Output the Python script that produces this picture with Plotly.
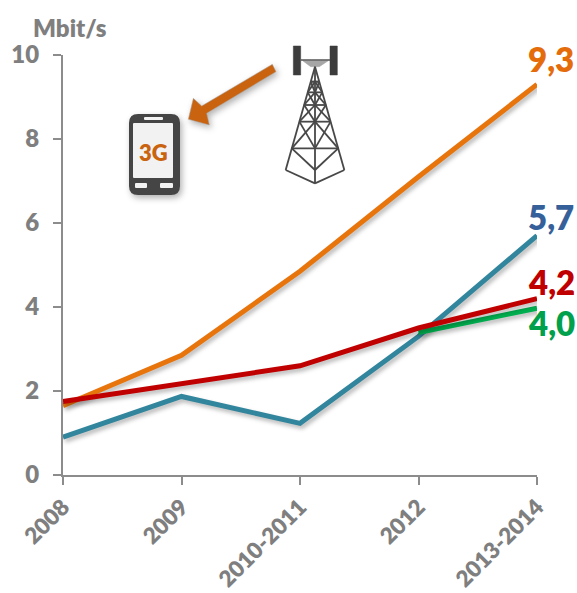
import plotly.graph_objects as go

categories = ["2008", "2009", "2010-2011", "2012", "2013-2014"]
series_blue = [0.9, 1.87, 1.23, 3.3, 5.7]
series_orange = [1.65, 2.85, 4.85, 7.1, 9.3]
series_green = [None, None, None, 3.39, 3.97]
series_red = [1.75, 2.17, 2.6, 3.5, 4.2]
end_labels = ["5,7", "9,3", "4,0", "4,2"]
y_ticks = [0, 2, 4, 6, 8, 10]

W, H = 577, 593
ML, MR, MT, MB = 63, 40, 55, 118
GRAY = "#7f7f7f"
FONT = "Lato"

def px(x): return (x - ML) / (W - ML - MR)
def py(y): return 1 - (y - MT) / (H - MT - MB)
def zx(z): return 110 + z / 3
def zy(z): return 30 + z / 3

fig = go.Figure()
specs = [
    (series_blue, "#31859c", 5, "#36609a", end_labels[0], 0, 19),
    (series_orange, "#e8740c", 5, "#e46c0a", end_labels[1], 0, 25),
    (series_green, "#00b050", 5, "#00a04c", end_labels[2], 0, -15),
    (series_red, "#c00000", 5, "#c00000", end_labels[3], 0, 17),
]
for vals, col, w, tcol, lab, xs, ys in specs:
    fig.add_trace(go.Scatter(x=categories, y=vals, mode="lines",
                             line=dict(color=col, width=w), showlegend=False,
                             connectgaps=False, cliponaxis=False))
    fig.add_annotation(x=categories[-1], y=vals[-1], xref="x", yref="y", text=lab,
                       showarrow=False, xshift=14 + xs, yshift=ys,
                       font=dict(family=FONT, size=33, color=tcol, weight=800))

shapes = []

def seg(z0, w0, z1, w1, color="#484848", width=1.8):
    shapes.append(dict(type="line", xref="paper", yref="paper",
                       x0=px(zx(z0)), y0=py(zy(w0)), x1=px(zx(z1)), y1=py(zy(w1)),
                       line=dict(color=color, width=width)))

def poly(points, fill, line=None):
    d = "M " + " L ".join(f"{px(zx(a)):.5f},{py(zy(b)):.5f}" for a, b in points) + " Z"
    shapes.append(dict(type="path", xref="paper", yref="paper", path=d, fillcolor=fill,
                       line=dict(color=line or fill, width=0.5)))

def rrect(x0, y0, x1, y1, r, fill):
    rx = r / (W - ML - MR); ry = r / (H - MT - MB)
    a, b, c, d = px(x0), py(y0), px(x1), py(y1)
    path = (f"M {a+rx},{b} L {c-rx},{b} Q {c},{b} {c},{b-ry} L {c},{d+ry} Q {c},{d} {c-rx},{d} "
            f"L {a+rx},{d} Q {a},{d} {a},{d+ry} L {a},{b-ry} Q {a},{b} {a+rx},{b} Z")
    shapes.append(dict(type="path", xref="paper", yref="paper", path=path, fillcolor=fill,
                       line=dict(width=0)))

# arrow
poly([(487, 103), (275, 228), (250, 205), (235, 268), (298, 285), (290, 250), (498, 125)],
     "#c9630f", "#a9a9a9")

# phone
rrect(129, 114, 180, 195, 9, "#454545")
rrect(133, 123, 173, 178, 1, "#f2f2f2")
rrect(144, 117, 163, 120, 1, "#f2f2f2")
rrect(135, 183, 147, 188, 1, "#f2f2f2")
rrect(160, 183, 173, 188, 1, "#f2f2f2")

# tower
AX, AY = 615, 110
BY = 420
levels = [155, 187, 225, 275, 355, 420]
def hw(z): return 88 * (z - AY) / (BY - AY)
poly([(550, 48), (572, 48), (572, 135), (550, 135)], "#3c3c3c")
poly([(660, 48), (682, 48), (682, 135), (660, 135)], "#3c3c3c")
poly([(578, 92), (655, 92), (628, 110), (602, 110)], "#a6a6a6")
seg(572, 90, 660, 90, "#555555", 1.5)
seg(AX, AY, AX - hw(BY), BY)
seg(AX, AY, AX + hw(BY), BY)
seg(AX, AY, AX, 460)
seg(AX - hw(BY), BY, AX, 460)
seg(AX + hw(BY), BY, AX, 460)
for z in levels[:-1]:
    seg(AX - hw(z), z, AX + hw(z), z)
prev = AY
for z in levels[:-1]:
    seg(AX - hw(z), z, AX, prev if prev != AY else z)
    seg(AX + hw(z), z, AX, prev if prev != AY else z)
    prev = z
for a, b in zip(levels[:-1], levels[1:]):
    seg(AX - hw(a), a, AX, b)
    seg(AX + hw(a), a, AX, b)

fig.add_annotation(xref="paper", yref="paper", x=px(153.5), y=py(152), xanchor="center", yanchor="middle",
                   text="3G", showarrow=False,
                   font=dict(family=FONT, size=22, color="#c9630f", weight=800))
fig.add_annotation(xref="paper", yref="paper", x=px(70), y=py(27), xanchor="center", yanchor="middle",
                   text="Mbit/s", showarrow=False,
                   font=dict(family=FONT, size=24, color=GRAY, weight=800))

axis_common = dict(showgrid=False, zeroline=False, showline=True, linecolor="#8c8c8c", linewidth=2,
                   ticks="outside", ticklen=8, tickwidth=2, tickcolor="#8c8c8c", automargin=False)
fig.update_xaxes(type="category", categoryorder="array", categoryarray=categories,
                 range=[0, 4], tickangle=-45, ticklabelstandoff=0,
                 tickfont=dict(family=FONT, size=22.5, color=GRAY, weight=800), **axis_common)
fig.update_yaxes(range=[0, 10], tickvals=y_ticks, ticklabelstandoff=9,
                 tickfont=dict(family=FONT, size=24, color=GRAY, weight=800), **axis_common)
fig.update_layout(width=W, height=H, autosize=False, margin=dict(l=ML, r=MR, t=MT, b=MB),
                  paper_bgcolor="white", plot_bgcolor="white", shapes=shapes, showlegend=False)
post = """
document.body.style.margin='0';
document.querySelectorAll('.scatterlayer .js-line').forEach(function(p){
  p.style.filter='drop-shadow(2px 3px 2px rgba(0,0,0,0.28))';
});
var sh=document.querySelectorAll('.shapelayer path');
[0,1].forEach(function(i){ if(sh[i]) sh[i].style.filter='drop-shadow(2px 3px 3px rgba(0,0,0,0.3))'; });
"""
fig.write_html("out.html", post_script=post, config=dict(displayModeBar=False))
